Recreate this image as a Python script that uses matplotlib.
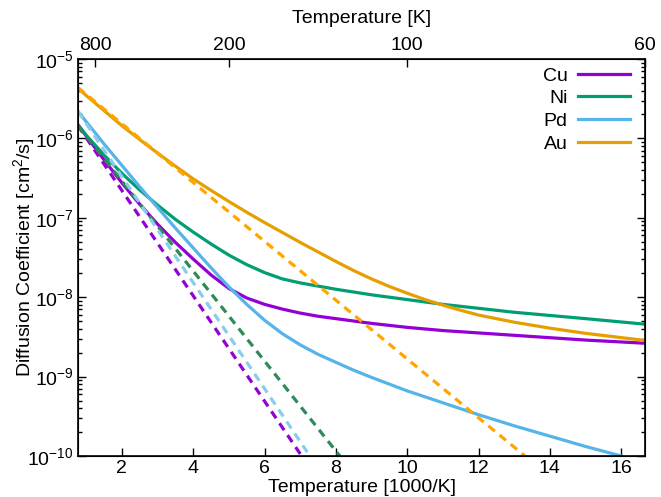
import numpy as np
import matplotlib
matplotlib.use("Agg")
import matplotlib.pyplot as plt
from matplotlib.ticker import LogLocator, NullFormatter

plt.rcParams['font.family'] = ['Liberation Sans', 'DejaVu Sans']
plt.rcParams['mathtext.fontset'] = 'custom'
plt.rcParams['mathtext.rm'] = 'Liberation Sans'
plt.rcParams['mathtext.it'] = 'Liberation Sans'

# ---- data (x = 1000/T, values as log10 of D in cm^2/s) ----
cu_x = [0.77, 1.0, 1.5, 2.0, 2.5, 3.0, 3.5, 4.0, 4.5, 5.0, 5.5, 6.0, 6.5, 7.0, 7.5, 8.0, 9, 10, 11, 12, 13, 14, 15, 16.67]
cu_log = [-5.83, -5.97, -6.27, -6.56, -6.83, -7.08, -7.31, -7.52, -7.72, -7.89, -8.01, -8.09, -8.15, -8.20, -8.24, -8.27, -8.33, -8.38, -8.42, -8.45, -8.48, -8.51, -8.54, -8.58]

ni_x = [0.77, 1.0, 1.5, 2.0, 2.5, 3.0, 3.5, 4.0, 4.5, 5.0, 5.5, 6.0, 6.5, 7.0, 7.5, 8.0, 9, 10, 11, 12, 13, 14, 15, 16.67]
ni_log = [-5.83, -5.96, -6.21, -6.44, -6.65, -6.84, -7.02, -7.18, -7.33, -7.47, -7.59, -7.69, -7.77, -7.82, -7.86, -7.90, -7.97, -8.03, -8.09, -8.14, -8.19, -8.23, -8.27, -8.34]

pd_x = [0.77, 1.0, 1.5, 2.0, 2.5, 3.0, 3.5, 4.0, 4.5, 5.0, 5.5, 6.0, 6.5, 7.0, 7.5, 8.0, 8.5, 9.0, 10, 11, 12, 13, 14, 15, 16]
pd_log = [-5.66, -5.79, -6.07, -6.34, -6.61, -6.87, -7.13, -7.38, -7.63, -7.87, -8.09, -8.29, -8.46, -8.60, -8.72, -8.82, -8.92, -9.01, -9.18, -9.33, -9.48, -9.62, -9.75, -9.88, -10.0]

au_x = [0.77, 1.0, 1.5, 2.0, 2.5, 3.0, 3.5, 4.0, 4.5, 5.0, 5.5, 6.0, 6.5, 7.0, 7.5, 8.0, 8.5, 9.0, 9.5, 10.0, 10.5, 11.0, 11.5, 12.0, 13.0, 14.0, 15.0, 16.67]
au_log = [-5.37, -5.46, -5.65, -5.84, -6.015, -6.185, -6.35, -6.51, -6.655, -6.795, -6.93, -7.06, -7.185, -7.31, -7.43, -7.55, -7.665, -7.77, -7.865, -7.95, -8.03, -8.10, -8.165, -8.225, -8.315, -8.39, -8.455, -8.545]

# single-Arrhenius (dashed) lines: end points
cu_dash_x = [0.77, 7.04]
cu_dash_log = [-5.84, -10.0]
ni_dash_x = [0.77, 8.11]
ni_dash_log = [-5.84, -10.0]
pd_dash_x = [0.77, 7.27]
pd_dash_log = [-5.66, -10.0]
au_dash_x = [0.77, 13.3]
au_dash_log = [-5.36, -10.0]

labels = ["Cu", "Ni", "Pd", "Au"]
solid_colors = ["#9400d3", "#009e73", "#56b4e9", "#e69f00"]
dash_colors = ["#9400d3", "#2e8b57", "#87ceeb", "#ffa500"]

top_temps = [800, 200, 100, 60]
top_labels = ["800", "200", "100", "60"]

fig = plt.figure(figsize=(6.61, 4.97), dpi=100)
ax = fig.add_axes([78/661, 1-456/497, (645-78)/661, (456-59)/497])

lw = 2.3
solids = [(cu_x, cu_log), (ni_x, ni_log), (pd_x, pd_log), (au_x, au_log)]
dashes = [(cu_dash_x, cu_dash_log), (ni_dash_x, ni_dash_log), (pd_dash_x, pd_dash_log), (au_dash_x, au_dash_log)]

for (x, lg), c, lab in zip(solids, solid_colors, labels):
    ax.plot(x, np.power(10.0, lg), color=c, lw=lw, label=lab, solid_joinstyle='round')
for (x, lg), c in zip(dashes, dash_colors):
    ax.plot(x, np.power(10.0, lg), color=c, lw=lw, dashes=(2.6, 1.9))

ax.set_yscale('log')
ax.set_xlim(1000/1300, 1000/60)
ax.set_ylim(1e-10, 1e-5)

fs = 14
ax.set_xticks([2, 4, 6, 8, 10, 12, 14, 16])
ax.tick_params(axis='x', which='both', direction='in', length=6, width=1, labelsize=fs, pad=3, top=False)
ax.yaxis.set_minor_locator(LogLocator(base=10, subs=np.arange(2, 10), numticks=10))
ax.yaxis.set_minor_formatter(NullFormatter())
ax.set_yticks([1e-10, 1e-9, 1e-8, 1e-7, 1e-6, 1e-5])
ax.set_yticklabels([r'$10^{-10}$', r'$10^{-9}$', r'$10^{-8}$', r'$10^{-7}$', r'$10^{-6}$', r'$10^{-5}$'])
ax.tick_params(axis='y', which='major', direction='in', length=6, width=1, labelsize=fs, right=True, pad=3)
ax.tick_params(axis='y', which='minor', direction='in', length=3, width=1, right=True)

for s in ax.spines.values():
    s.set_linewidth(1.2)

ax.set_xlabel("Temperature [1000/K]", fontsize=fs, labelpad=1)
ax.set_ylabel(r"Diffusion Coefficient [cm$^2$/s]", fontsize=fs, labelpad=-7)

ax2 = ax.twiny()
ax2.set_xlim(ax.get_xlim())
ax2.set_xticks([1000.0/t for t in top_temps])
ax2.set_xticklabels(top_labels)
ax2.tick_params(axis='x', direction='in', length=6, width=1, labelsize=fs, pad=3.5)
ax2.set_xlabel("Temperature [K]", fontsize=fs, labelpad=10)

leg = ax.legend(loc='upper right', bbox_to_anchor=(630/661, 1-67/497), bbox_transform=fig.transFigure,
                frameon=False, markerfirst=False, fontsize=fs, handlelength=2.7,
                handletextpad=0.5, labelspacing=0.26, borderpad=0, borderaxespad=0)

fig.savefig("out.png", dpi=100)
